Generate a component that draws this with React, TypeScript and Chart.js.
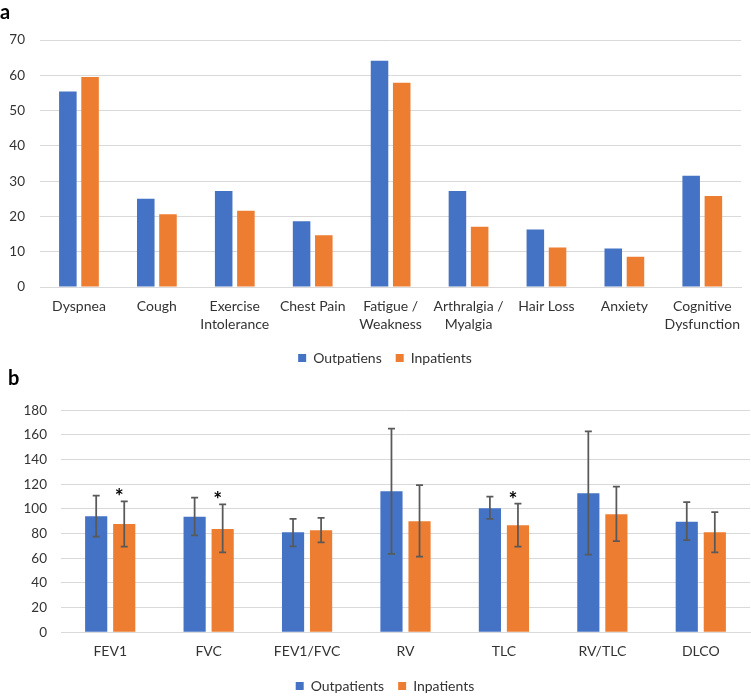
import React, { useEffect, useRef } from 'react';
import { Chart, registerables } from 'chart.js';
Chart.register(...registerables);

// ---- Panel a: symptoms ----
const symptomCategories: (string | string[])[] = [
  'Dyspnea', 'Cough', ['Exercise', 'Intolerance'], 'Chest Pain', ['Fatigue /', 'Weakness'],
  ['Arthralgia /', 'Myalgia'], 'Hair Loss', 'Anxiety', ['Cognitive', 'Dysfunction'],
];
const symptomOutpatients = [55.4, 25.0, 27.2, 18.6, 64.1, 27.2, 16.3, 10.9, 31.5];
const symptomInpatients = [59.5, 20.6, 21.6, 14.7, 57.9, 17.1, 11.2, 8.6, 25.8];
const symptomLegend = ['Outpatiens', 'Inpatients'];
const symptomYMax = 70;
const symptomYStep = 10;

// ---- Panel b: pulmonary function ----
const pftCategories = ['FEV1', 'FVC', 'FEV1/FVC', 'RV', 'TLC', 'RV/TLC', 'DLCO'];
const pftOutpatients = [94.0, 93.7, 81.1, 114.3, 100.5, 112.7, 89.7];
const pftOutHigh = [110.8, 109.1, 91.9, 165.1, 110.0, 163.0, 105.6];
const pftOutLow = [77.5, 78.6, 69.7, 63.5, 91.9, 62.9, 74.8];
const pftInpatients = [87.8, 83.8, 82.7, 90.0, 86.7, 95.7, 81.1];
const pftInHigh = [106.2, 103.8, 92.7, 119.4, 104.3, 118.1, 97.5];
const pftInLow = [69.4, 64.9, 73.0, 61.3, 69.4, 74.0, 64.9];
const pftSignificant = [true, true, false, false, true, false, false];
const pftLegend = ['Outpatients', 'Inpatients'];
const pftYMax = 180;
const pftYStep = 20;

const BLUE = '#4472C4';
const ORANGE = '#ED7D31';
const GRID = '#D9D9D9';
const TEXT = '#333333';
const FONT = 'Lato';

// shifts the centred legend slightly to the right, as in the original
const legendShiftPlugin = {
  id: 'legendShift',
  afterLayout(chart: any) {
    if (chart.legend) chart.legend.left += 20;
  },
};

function makeConfig(opts: {
  labels: any[];
  a: number[];
  b: number[];
  legend: string[];
  yMax: number;
  yStep: number;
  yWidth: number;
  yPad: number;
  xHeight: number;
  padTop: number;
  plugins?: any[];
}): any {
  return {
    type: 'bar',
    data: {
      labels: opts.labels,
      datasets: [
        { label: opts.legend[0], data: opts.a, backgroundColor: BLUE, borderWidth: 0, categoryPercentage: 0.57, barPercentage: 0.79 },
        { label: opts.legend[1], data: opts.b, backgroundColor: ORANGE, borderWidth: 0, categoryPercentage: 0.57, barPercentage: 0.79 },
      ],
    },
    options: {
      responsive: false,
      animation: false,
      devicePixelRatio: 1,
      layout: { padding: { top: opts.padTop, left: 0, right: 1, bottom: 0 } },
      plugins: {
        legend: {
          position: 'bottom',
          labels: { boxWidth: 8, boxHeight: 8, padding: 14, color: TEXT, font: { family: FONT, size: 14 } },
        },
        tooltip: { enabled: false },
        title: { display: false },
      },
      scales: {
        x: {
          grid: { display: false, drawTicks: false },
          border: { display: true, color: GRID, width: 1 },
          ticks: { color: TEXT, padding: 11, maxRotation: 0, autoSkip: false, font: { family: FONT, size: 14, lineHeight: 1.24 } },
          afterFit: (s: any) => { s.height = opts.xHeight; },
        },
        y: {
          min: 0,
          max: opts.yMax,
          grid: { color: GRID, drawTicks: false, lineWidth: 1 },
          border: { display: false },
          ticks: { stepSize: opts.yStep, color: TEXT, padding: opts.yPad, font: { family: FONT, size: 13.5 } },
          afterFit: (s: any) => { s.width = opts.yWidth; },
        },
      },
    },
    plugins: [legendShiftPlugin, ...(opts.plugins || [])],
  };
}

const errorBarPlugin = {
  id: 'errorBars',
  afterDatasetsDraw(chart: any) {
    const { ctx } = chart;
    const yScale = chart.scales.y;
    const highs = [pftOutHigh, pftInHigh];
    const lows = [pftOutLow, pftInLow];
    ctx.save();
    ctx.strokeStyle = '#595959';
    ctx.lineWidth = 1.75;
    for (let d = 0; d < 2; d++) {
      const meta = chart.getDatasetMeta(d);
      meta.data.forEach((el: any, i: number) => {
        const x = el.x;
        const yt = yScale.getPixelForValue(highs[d][i]);
        const yb = yScale.getPixelForValue(lows[d][i]);
        ctx.beginPath();
        ctx.moveTo(x, yt);
        ctx.lineTo(x, yb);
        ctx.moveTo(x - 3.5, yt);
        ctx.lineTo(x + 3.5, yt);
        ctx.moveTo(x - 3.5, yb);
        ctx.lineTo(x + 3.5, yb);
        ctx.stroke();
      });
    }
    // significance markers
    const metaIn = chart.getDatasetMeta(1);
    ctx.fillStyle = '#000';
    ctx.font = `bold 21px ${FONT}`;
    ctx.textAlign = 'center';
    ctx.textBaseline = 'alphabetic';
    metaIn.data.forEach((el: any, i: number) => {
      if (!pftSignificant[i]) return;
      const yt = yScale.getPixelForValue(pftInHigh[i]);
      ctx.fillText('*', el.x - 5, yt + 3);
    });
    ctx.restore();
  },
};

export default function App() {
  const refA = useRef<HTMLCanvasElement>(null);
  const refB = useRef<HTMLCanvasElement>(null);

  useEffect(() => {
    document.body.style.margin = '0';
    const a = new Chart(refA.current!, makeConfig({
      labels: symptomCategories,
      a: symptomOutpatients,
      b: symptomInpatients,
      legend: symptomLegend,
      yMax: symptomYMax,
      yStep: symptomYStep,
      yWidth: 40,
      yPad: 15,
      xHeight: 50,
      padTop: 40,
    }));
    const b = new Chart(refB.current!, makeConfig({
      labels: pftCategories,
      a: pftOutpatients,
      b: pftInpatients,
      legend: pftLegend,
      yMax: pftYMax,
      yStep: pftYStep,
      yWidth: 61,
      yPad: 14,
      xHeight: 32.7,
      padTop: 40.3,
      plugins: [errorBarPlugin],
    }));
    return () => { a.destroy(); b.destroy(); };
  }, []);

  const panelLabel: React.CSSProperties = {
    position: 'absolute', fontFamily: FONT, fontWeight: 'bold', fontSize: 20, lineHeight: '20px', color: '#000', margin: 0,
  };

  return (
    <div style={{ position: 'fixed', left: 0, top: 0, width: 751, height: 696, overflow: 'hidden', background: '#fff' }}>
      <canvas ref={refA} width={751} height={375} style={{ position: 'absolute', left: 0, top: 0 }} />
      <canvas ref={refB} width={751} height={333} style={{ position: 'absolute', left: 0, top: 370 }} />
      <div style={{ ...panelLabel, left: 0, top: 1 }}>a</div>
      <div style={{ ...panelLabel, left: 8, top: 367 }}>b</div>
    </div>
  );
}
